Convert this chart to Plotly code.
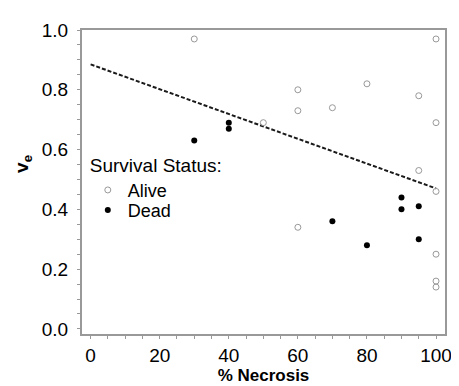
import plotly.graph_objects as go

# Data
alive_x = [30, 100, 60, 60, 70, 80, 95, 100, 50, 95, 100, 60, 100, 100, 100]
alive_y = [0.97, 0.97, 0.80, 0.73, 0.74, 0.82, 0.78, 0.69, 0.69, 0.53, 0.46, 0.34, 0.25, 0.16, 0.14]
dead_x = [40, 40, 30, 90, 90, 95, 70, 80, 95]
dead_y = [0.69, 0.67, 0.63, 0.44, 0.40, 0.41, 0.36, 0.28, 0.30]
fit_x = [0, 100]
fit_y = [0.885, 0.47]

x_ticks = [0, 20, 40, 60, 80, 100]
y_ticks = [0.0, 0.2, 0.4, 0.6, 0.8, 1.0]

FONT = "Liberation Sans, Arial, sans-serif"
GREY = "#999999"

fig = go.Figure()
fig.add_trace(go.Scatter(
    x=fit_x, y=fit_y, mode="lines", showlegend=False,
    line=dict(color="#1a1a1a", width=2, dash="4px,2px"),
    hoverinfo="skip",
))
fig.add_trace(go.Scatter(
    x=alive_x, y=alive_y, mode="markers", name="Alive", legend="legend",
    marker=dict(symbol="circle-open", size=6, color=GREY, line=dict(width=1, color=GREY)),
))
fig.add_trace(go.Scatter(
    x=dead_x, y=dead_y, mode="markers", name="Dead", legend="legend2",
    marker=dict(symbol="circle", size=6, color="black"),
))

axis_common = dict(
    showline=True, linecolor=GREY, linewidth=2, mirror=True,
    ticks="outside", ticklen=3, tickcolor=GREY, tickwidth=1,
    showgrid=False, zeroline=False,
    tickfont=dict(family=FONT, size=19, color="black"),
)

fig.update_xaxes(
    range=[-2.5, 102.6], tickvals=x_ticks, ticktext=[str(v) for v in x_ticks],
    minor=dict(dtick=5, ticks="outside", ticklen=3, tickcolor=GREY),
    title=dict(text="<b>% Necrosis</b>", font=dict(family=FONT, size=17, color="black"), standoff=4),
    **axis_common,
)
fig.update_yaxes(
    range=[-0.017, 1.0], tickvals=y_ticks, ticktext=[f"{v:.1f}" for v in y_ticks],
    minor=dict(dtick=0.05, ticks="outside", ticklen=3, tickcolor=GREY),
    ticklabelstandoff=5,
    **axis_common,
)

title_font = dict(family=FONT, size=19, color="black")
item_font = dict(family=FONT, size=18, color="black")
fig.update_layout(
    width=459, height=386,
    margin=dict(l=74, r=22, t=18, b=56),
    paper_bgcolor="white", plot_bgcolor="white",
    font=dict(family=FONT, size=19, color="black"),
    legend=dict(
        x=0.016, y=0.615, xanchor="left", yanchor="top",
        bgcolor="rgba(0,0,0,0)",
        title=dict(text="Survival Status:", font=title_font),
        font=item_font, itemsizing="trace",
    ),
    legend2=dict(
        x=0.016, y=0.468, xanchor="left", yanchor="top",
        bgcolor="rgba(0,0,0,0)",
        font=item_font, itemsizing="trace",
    ),
    annotations=[dict(
        text="<b>v<sub>e</sub></b>", xref="paper", yref="paper",
        x=-0.161, y=0.558, xanchor="center", yanchor="middle",
        textangle=-90, showarrow=False,
        font=dict(family=FONT, size=19, color="black"),
    )],
)

fig.write_html("out.html")
